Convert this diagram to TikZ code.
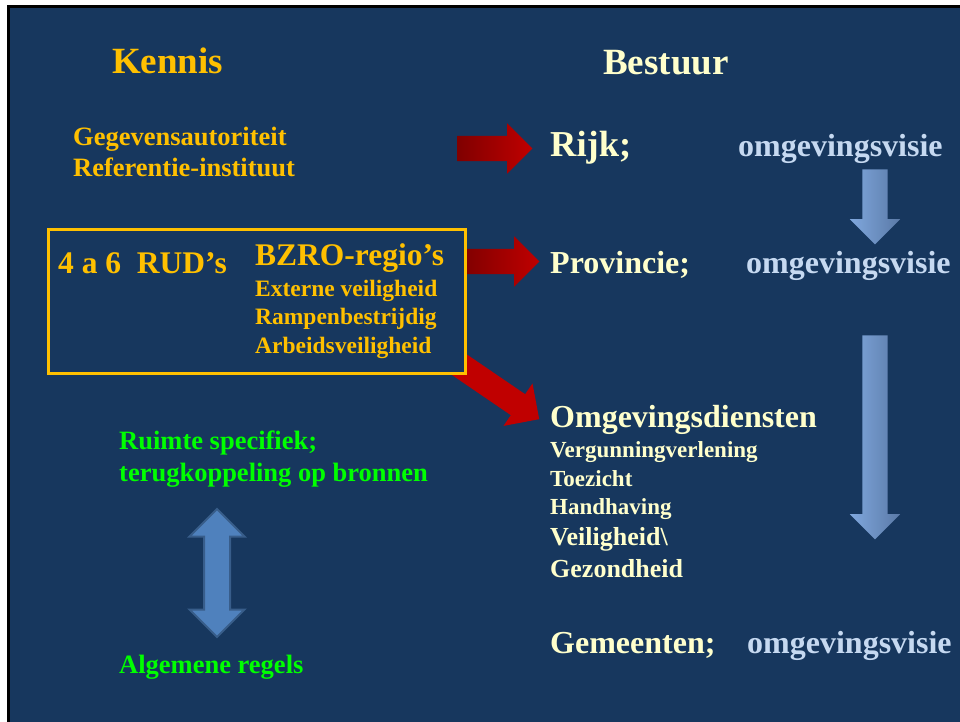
\documentclass[tikz,border=0pt]{standalone}
\usepackage{fontspec}
\setmainfont{Liberation Serif}
\usepackage{tikz}
\usetikzlibrary{shapes.arrows}

\definecolor{navy}{HTML}{17375E}
\definecolor{gold}{HTML}{FFC000}
\definecolor{cream}{HTML}{FFFFCC}
\definecolor{visie}{HTML}{C6D9F1}
\definecolor{brightgreen}{HTML}{00FF00}
\definecolor{darkred}{HTML}{800000}
\definecolor{brightred}{HTML}{C00000}
\definecolor{steel}{HTML}{4F81BD}
\definecolor{steeldark}{HTML}{385D8A}
\definecolor{lightsteel}{HTML}{80A8DE}
\definecolor{midsteel}{HTML}{5A79A6}

\newcommand{\fs}[1]{\fontsize{#1}{#1}\selectfont\bfseries}

\begin{document}
\begin{tikzpicture}[x=1pt,y=-1pt,
		txt/.style={anchor=base west,inner sep=0pt},
		redarrow/.style={single arrow,inner sep=12.5pt,
			single arrow head extend=12.5pt,left color=darkred,right color=brightred},
		bluearrow/.style={single arrow,shape border rotate=270,inner sep=12.5pt,
			single arrow head extend=12.5pt,
			left color=lightsteel,right color=midsteel}]
		\useasboundingbox (0,0) rectangle (960,722);
		\fill[black] (7,5) rectangle (960,722);
		\fill[navy] (10,8) rectangle (960,722);
		%
		% block arrows
		\node (toRijk) [redarrow,minimum height=75pt] at (488.5,148.5) {};
		\node (toProv) [redarrow,minimum height=76pt] at (495,261.5) {};
		\node (toOmg) [single arrow,inner sep=12.5pt,
			single arrow head extend=13pt,fill=brightred,rotate=-34.3,
			minimum height=105pt] at (490.6,386) {};
		\node (visieA) [bluearrow,minimum height=75pt] at (875,200.5) {};
		\node (visieB) [bluearrow,minimum height=204pt] at (875,431) {};
		\node (ruimte) [double arrow,shape border rotate=90,inner sep=12pt,
			double arrow head extend=14.5pt,minimum height=128pt,
			fill=steel,draw=steeldark,line width=2pt] at (217,573) {};
		%
		\node (rud) [draw=gold,line width=3pt,fill=navy,inner sep=0pt,
			minimum width=417pt,minimum height=144pt] at (256.5,301) {};
		%
		% Kennis
		\node (kennis) [txt,text=gold] at (112,74) {\fs{37}Kennis};
		\node (gegevens) [txt,text=gold] at (73,146) {\fs{26.5}Gegevensautoriteit};
		\node (referentie) [txt,text=gold] at (73,177) {\fs{26.5}Referentie-instituut};
		\node (rudtxt) [txt,text=gold] at (58,273) {\fs{31.5}4 a 6\ \ RUD’s};
		\node (bzro) [txt,text=gold] at (255,265) {\fs{31.5}BZRO-regio’s};
		\node (extern) [txt,text=gold] at (255,296) {\fs{23.5}Externe veiligheid};
		\node (rampen) [txt,text=gold] at (255,324) {\fs{23.5}Rampenbestrijdig};
		\node (arbeid) [txt,text=gold] at (255,353) {\fs{23.5}Arbeidsveiligheid};
		\node (specifiek) [txt,text=brightgreen] at (119,449) {\fs{26.5}Ruimte specifiek;};
		\node (terug) [txt,text=brightgreen] at (119,481) {\fs{26.5}terugkoppeling op bronnen};
		\node (algemeen) [txt,text=brightgreen] at (119,673) {\fs{26.5}Algemene regels};
		%
		% Bestuur
		\node (bestuur) [txt,text=cream] at (603,75) {\fs{37}Bestuur};
		\node (rijk) [txt,text=cream] at (550,157) {\fs{36.5}Rijk;};
		\node (visie1) [txt,text=visie] at (738,157) {\fs{32}omgevingsvisie};
		\node (prov) [txt,text=cream] at (550,273) {\fs{32}Provincie;};
		\node (visie2) [txt,text=visie] at (746,273) {\fs{32}omgevingsvisie};
		\node (omg) [txt,text=cream] at (550,427) {\fs{32}Omgevingsdiensten};
		\node (vergunning) [txt,text=cream] at (550,457) {\fs{23}Vergunningverlening};
		\node (toezicht) [txt,text=cream] at (550,486) {\fs{23}Toezicht};
		\node (handhaving) [txt,text=cream] at (550,514) {\fs{23}Handhaving};
		\node (veilig) [txt,text=cream] at (550,545) {\fs{26}Veiligheid\textbackslash};
		\node (gezond) [txt,text=cream] at (550,577) {\fs{26}Gezondheid};
		\node (gemeenten) [txt,text=cream] at (550,653) {\fs{32}Gemeenten;};
		\node (visie3) [txt,text=visie] at (747,653) {\fs{32}omgevingsvisie};
	\end{tikzpicture}
\end{document}
